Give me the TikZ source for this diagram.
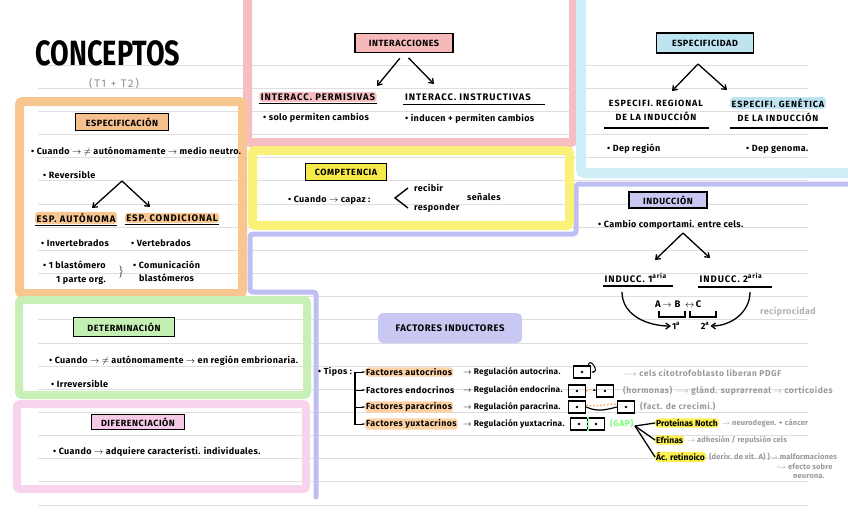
\documentclass[tikz,border=0pt]{standalone}
\usepackage{graphicx}
\usepackage{fontspec}
\setmainfont{Fira Sans}
\usetikzlibrary{arrows.meta,positioning,calc}
\definecolor{pinkF}{RGB}{246,190,195}
\definecolor{blueF}{RGB}{208,238,248}
\definecolor{orangeF}{RGB}{248,198,145}
\definecolor{yellowF}{RGB}{250,242,120}
\definecolor{greenF}{RGB}{200,240,182}
\definecolor{rosaF}{RGB}{248,212,236}
\definecolor{lilaF}{RGB}{190,190,242}
\definecolor{hPink}{RGB}{245,185,185}
\definecolor{hBlue}{RGB}{190,228,242}
\definecolor{hOrange}{RGB}{245,192,142}
\definecolor{hYellow}{RGB}{246,234,72}
\definecolor{hLila}{RGB}{200,200,242}
\definecolor{hGreen}{RGB}{196,240,180}
\definecolor{hRosa}{RGB}{246,202,230}
\definecolor{orangeL}{RGB}{252,210,165}
\definecolor{orangeD}{RGB}{245,170,100}
\definecolor{yellowH}{RGB}{250,240,80}
\newcommand{\flecha}{$\rightarrow$}

\begin{document}
\begin{tikzpicture}[x=1pt, y=-1pt,
  rule/.style={black!13, line width=0.8pt},
  frame/.style={line width=#1, rounded corners=3pt},
  hdr/.style={draw=black, line width=1.5pt, font=\bfseries\fontsize{9}{10}\selectfont\addfontfeatures{LetterSpace=6}, inner xsep=4pt, inner ysep=3pt},
  sub/.style={font=\bfseries\fontsize{9.5}{10}\selectfont\addfontfeatures{LetterSpace=10}, inner sep=1.5pt},
  txt/.style={font=\bfseries\fontsize{9}{10}\selectfont\addfontfeatures{LetterSpace=4}, anchor=west, inner sep=1pt},
  small/.style={font=\bfseries\fontsize{8.8}{10}\selectfont\addfontfeatures{LetterSpace=5}, anchor=west, inner sep=1pt},
  reg/.style={small, font=\bfseries\fontsize{8.3}{9}\selectfont\addfontfeatures{LetterSpace=3}},
  note/.style={small, font=\bfseries\fontsize{8.5}{9}\selectfont\addfontfeatures{LetterSpace=6}, text=black!40},
  noteS/.style={note, font=\bfseries\fontsize{7.5}{8}\selectfont\addfontfeatures{LetterSpace=2}},
  hl/.style={fill=#1, rounded corners=3pt},
  uline/.style={line width=1.3pt},
  tip/.style={-{Straight Barb[length=4pt,width=6pt]}, line width=1.3pt},
  tipS/.style={-{Stealth[length=3pt]}, line width=1pt},
  cell/.style={draw, line width=1.5pt, minimum width=17pt, minimum height=12pt, inner sep=0pt,
    path picture={\fill (path picture bounding box.center) circle (1.3pt);}}
]
  \useasboundingbox (0,0) rectangle (848,530);
  \clip (0,0) rectangle (848,530);

  % ruled paper
  \foreach \k in {0,...,19}
    \draw[rule] (38,{65+23.16*\k}) -- (808,{65+23.16*\k});

  % coloured frames
  \draw[frame=5pt, lilaF, line cap=round] (316,497) -- (316,292) -- (250,292) -- (250,234) -- (576,234) -- (576,184) -- (870,184);
  \draw[frame=9pt, pinkF] (247.5,-10) rectangle (573.5,142.5);
  \draw[frame=10pt, blueF] (581,-10) rectangle (870,173);
  \draw[frame=9pt, orangeF] (19.5,101.5) rectangle (242.5,293.5);
  \draw[frame=9pt, yellowF] (252.5,150.5) rectangle (569.5,225.5);
  \draw[frame=8pt, greenF] (19,300) rectangle (307,395);
  \draw[frame=8pt, rosaF] (17,404) rectangle (306,489);

  % title
  \node[inner sep=0pt] (tit) at (108,53) {\scalebox{1}[1.3]{\fontsize{27}{27}\selectfont\bfseries CONCEPTOS}};
  \node[font=\fontsize{11}{12}\selectfont\addfontfeatures{LetterSpace=15}, text=black!45] (tt) at (114,84) {(T1 + T2)};

  % interacciones
  \node[hdr, fill=hPink, minimum width=98pt, minimum height=19pt] (inter) at (404,43) {INTERACCIONES};
  \coordinate (interL) at (377,86);
  \coordinate (interR) at (434,84);
  \draw[tip, shorten <=6.5pt] (inter.south) -- (interL);
  \draw[tip, shorten <=6.5pt] (inter.south) -- (interR);
  \node[sub, hl=pinkF] (perm) at (318,97) {INTERACC. PERMISIVAS};
  \node[sub] (instr) at (468,97) {INTERACC. INSTRUCTIVAS};
  \draw[uline] ([yshift=-1pt]perm.south west) -- ([yshift=-1pt]perm.south east);
  \draw[uline] ([yshift=-2pt]instr.south west) -- ([xshift=12pt,yshift=-2pt]instr.south east);
  \node[txt] (permT) at (262,118) {• solo permiten cambios};
  \node[txt] (instT) at (404,119) {• inducen + permiten cambios};

  % especificidad
  \node[hdr, fill=hBlue, minimum width=97pt, minimum height=20pt] (espec) at (705,43) {ESPECIFICIDAD};
  \coordinate (especA) at (698,64);
  \coordinate (especL) at (672,91);
  \coordinate (especR) at (727,90);
  \draw[tip] (especA) -- (especL);
  \draw[tip] (especA) -- (especR);
  \node[sub, align=center, font=\bfseries\fontsize{9}{14}\selectfont\addfontfeatures{LetterSpace=10}] (regio) at (656,110) {ESPECIFI. REGIONAL\\DE LA INDUCCIÓN};
  \node[sub, hl=hBlue, font=\bfseries\fontsize{9}{10}\selectfont\addfontfeatures{LetterSpace=10}] (genet) at (778,103) {ESPECIFI. GENÉTICA};
  \node[sub, font=\bfseries\fontsize{9}{10}\selectfont\addfontfeatures{LetterSpace=10}] (genet2) at (778,117) {DE LA INDUCCIÓN};
  \draw[uline] (604,128) -- (709,128);
  \draw[uline] (730,128) -- (828,128);
  \node[txt] (depR) at (606,149) {• Dep región};
  \node[txt] (depG) at (745,149) {• Dep genoma.};

  % especificacion
  \node[hdr, fill=hOrange, minimum width=93pt, minimum height=17pt] (especif) at (122,122) {ESPECIFICACIÓN};
  \node[txt] (e1) at (30,152) {• Cuando \flecha\ $\neq$ autónomamente \flecha\ medio neutro.};
  \node[txt] (e2) at (42,175) {• Reversible};
  \coordinate (especifA) at (122,181);
  \coordinate (especifL) at (92,208);
  \coordinate (especifR) at (150,207);
  \draw[tip] (especifA) -- (especifL);
  \draw[tip] (especifA) -- (especifR);
  \node[sub, hl=orangeF] (auton) at (76,218) {ESP. AUTÓNOMA};
  \node[sub, hl=orangeF] (condi) at (172,218) {ESP. CONDICIONAL};
  \draw[uline] ([yshift=-1pt]auton.south west) -- ([yshift=-1pt]auton.south east);
  \draw[uline] ([yshift=-1pt]condi.south west) -- ([yshift=-1pt]condi.south east);
  \node[txt] (inv) at (40,243) {• Invertebrados};
  \node[txt] (vert) at (130,243) {• Vertebrados};
  \node[txt] (blas1) at (42,265) {• 1 blastómero};
  \node[txt] (blas2) at (55,280) {1 parte org.};
  \node[inner sep=0pt] (blasB) at (121,272) {$\big\}$};
  \node[txt] (com1) at (132,265) {• Comunicación};
  \node[txt] (com2) at (138,278) {blastómeros};

  % competencia
  \node[hdr, fill=hYellow, minimum width=81pt, minimum height=17pt] (compe) at (346,172) {COMPETENCIA};
  \node[txt] (cuan) at (287,200) {• Cuando \flecha\ capaz :};
  \node[txt] (rec) at (413,188) {recibir};
  \node[txt] (resp) at (413,208) {responder};
  \node[txt] (senal) at (466,197) {señales};
  \draw[line width=1.4pt] ([xshift=-5pt]rec.west) -- ($(rec.west)!0.5!(resp.west)+(-18,0)$) -- ([xshift=-5pt]resp.west);

  % induccion
  \node[hdr, fill=hLila, minimum width=78pt, minimum height=16pt] (induc) at (668,200) {INDUCCIÓN};
  \node[txt] (cambio) at (597,225) {• Cambio comportami. entre cels.};
  \coordinate (inducA) at (683,233);
  \coordinate (inducL) at (655,260);
  \coordinate (inducR) at (710,258);
  \draw[tip] (inducA) -- (inducL);
  \draw[tip] (inducA) -- (inducR);
  \node[sub, anchor=west] (ind1) at (603,278) {INDUCC. 1\textsuperscript{aria}};
  \node[sub, anchor=west] (ind2) at (698,278) {INDUCC. 2\textsuperscript{aria}};
  \draw[uline] (603,286) -- (673,286);
  \draw[uline] (698,287) -- (772,287);
  \node[txt, font=\bfseries\fontsize{9.5}{10}\selectfont\addfontfeatures{LetterSpace=8}] (abc) at (654,304) {A\,\flecha\ B \,$\leftrightarrow$\,C};
  \draw[line width=1.2pt] (659,311) -- (659,317) -- (685,317) -- (685,311);
  \draw[line width=1.2pt] (690,311) -- (690,317) -- (716,317) -- (716,311);
  \node[txt, anchor=center] (uno) at (676,326) {1\textsuperscript{a}};
  \node[txt, anchor=center] (dos) at (705,326) {2\textsuperscript{a}};
  \draw[tip] (622,292) to[out=-90,in=180] (uno.west);
  \draw[tip] (750,292) to[out=-90,in=0] (dos.east);
  \node[txt, font=\bfseries\fontsize{9}{10}\selectfont\addfontfeatures{LetterSpace=4}, text=black!30] (recip) at (759,312) {reciprocidad};

  % determinacion
  \node[hdr, fill=hGreen, minimum width=101pt, minimum height=19pt] (deter) at (124,327) {DETERMINACIÓN};
  \node[txt] (d1) at (48,361) {• Cuando \flecha\ $\neq$ autónomamente \flecha\ en región embrionaria.};
  \node[txt] (d2) at (50,384) {• Irreversible};

  % diferenciacion
  \node[hdr, fill=hRosa, minimum width=93pt, minimum height=15pt] (difer) at (138,422) {DIFERENCIACIÓN};
  \node[txt] (f1) at (52,452) {• Cuando \flecha\ adquiere característi. individuales.};

  % factores inductores
  \node[fill=hLila, rounded corners=5pt, minimum width=144pt, minimum height=30pt, font=\bfseries\fontsize{9.5}{10}\selectfont\addfontfeatures{LetterSpace=6}] (factin) at (450,328) {FACTORES INDUCTORES};
  \node[small] (tipos) at (317,372) {• Tipos :};
  \coordinate (brT) at (355,372);
  \coordinate (brB) at (355,425);
  \draw[line width=1.2pt] (brT) -- (brB);
  \node[small, hl=orangeL] (fa) at (365,372) {Factores autocrinos};
  \node[small] (fe) at (365,390) {Factores endocrinos};
  \node[small, hl=orangeL] (fp) at (365,407) {Factores paracrinos};
  \node[small, hl=orangeL] (fy) at (365,424) {Factores yuxtacrinos};
  \foreach \f in {fa,fe,fp,fy}
    \draw[tipS] (brT |- \f.west) -- (\f.west);
  \node[reg] (ra) at (462,372) {\flecha\ Regulación autocrina.};
  \node[reg] (re) at (462,390) {\flecha\ Regulación endocrina.};
  \node[reg] (rp) at (462,407) {\flecha\ Regulación paracrina.};
  \node[reg] (ry) at (462,424) {\flecha\ Regulación yuxtacrina.};

  % cells
  \node[cell] (ca) at (582,372) {};
  \draw[tipS] ([xshift=-3pt]ca.north east) to[out=80,in=0,looseness=3] (ca.east);
  \node[cell] (ce1) at (577,391) {};
  \node[cell] (ce2) at (605,391) {};
  \draw[orangeD, dotted, line width=1.5pt, -{Stealth[length=3pt,color=black]}] (ce1.east) to[out=30,in=150] (ce2.west);
  \node[cell] (cp1) at (577,407) {};
  \node[cell] (cp2) at (626,407) {};
  \draw[orangeD, dotted, line width=1.5pt] ([yshift=2pt]cp1.east) to[out=-10,in=180] ([yshift=3pt]cp2.west);
  \draw[line width=1.2pt] (cp1.east) to[out=-25,in=195] (cp2.west);
  \node[cell] (cy1) at (579,424) {};
  \node[cell, right=-1.5pt of cy1] (cy2) {};
  \draw[green!60, dotted, line width=2pt] ([xshift=-0.5pt]cy1.north east) -- ([xshift=-0.5pt]cy1.south east);

  % notes
  \node[note] (na) at (622,373) {$\longrightarrow$ cels citotrofoblasto liberan PDGF};
  \node[note] (ne) at (622,391) {(hormonas) $\longrightarrow$ glánd. suprarrenal \flecha\ corticoides};
  \node[note] (np) at (639,407) {(fact. de crecimi.)};
  \node[note, text=green!55] (gap) at (609,424) {(GAP)};
  \coordinate (fan) at (635,426);
  \node[small, hl=yellowH, font=\bfseries\fontsize{8.5}{9}\selectfont] (notch) at (655,423) {Proteínas Notch};
  \node[noteS, right=2pt of notch] (notchN) {\flecha\ neurodegen. + cáncer};
  \node[small, hl=yellowH, font=\bfseries\fontsize{8.5}{9}\selectfont] (efr) at (655,440) {Efrinas};
  \node[noteS, right=2pt of efr] (efrN) {\flecha\ adhesión / repulsión cels};
  \node[small, hl=yellowH, font=\bfseries\fontsize{8.5}{9}\selectfont] (acr) at (655,457) {Ác. retinoico};
  \node[noteS, right=2pt of acr] (acrN) {(deriv. de vit. A) \}\flecha\ malformaciones};
  \node[noteS] (efe) at (776,467) {$\hookrightarrow$ efecto sobre};
  \node[noteS] (neu) at (792,477) {neurona.};
  \draw[line width=1.3pt] (fan) -- (notch.west);
  \draw[line width=1.3pt] (fan) -- (efr.west);
  \draw[line width=1.3pt] (fan) -- (acr.west);
\end{tikzpicture}
\end{document}
